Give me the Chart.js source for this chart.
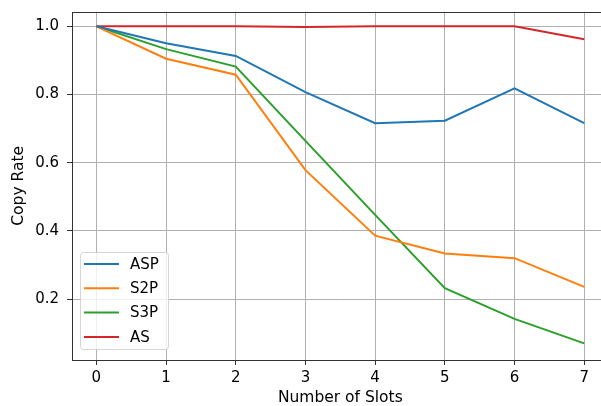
<!DOCTYPE html>
<html>
<head>
<meta charset="utf-8">
<script src="https://cdn.jsdelivr.net/npm/chart.js@4"></script>
<style>
  html, body { margin: 0; padding: 0; background: #fff; overflow: hidden; }
  #wrap { width: 615px; height: 406px; }
</style>
</head>
<body>
<div id="wrap"><canvas id="chart" width="615" height="406"></canvas></div>
<script>
const slots = [0, 1, 2, 3, 4, 5, 6, 7];
const asp = [1.0, 0.950, 0.913, 0.807, 0.716, 0.723, 0.818, 0.716];
const s2p = [1.0, 0.905, 0.858, 0.578, 0.386, 0.334, 0.320, 0.236];
const s3p = [1.0, 0.933, 0.882, 0.664, 0.447, 0.232, 0.142, 0.070];
const as = [1.0, 1.0, 1.0, 0.998, 1.0, 1.0, 1.0, 0.962];

const seriesNames = ["ASP", "S2P", "S3P", "AS"];
const seriesValues = [asp, s2p, s3p, as];
const colors = ["#1f77b4", "#ff7f0e", "#2ca02c", "#d62728"];

const xTicks = [0, 1, 2, 3, 4, 5, 6, 7];
const yTicks = [0.2, 0.4, 0.6, 0.8, 1.0];

const FONT = "'DejaVu Sans', sans-serif";

const datasets = seriesNames.map((name, i) => ({
  label: name,
  data: slots.map((x, j) => ({ x: x, y: seriesValues[i][j] })),
  borderColor: colors[i],
  backgroundColor: colors[i],
  borderWidth: 2,
  pointRadius: 0,
  tension: 0,
  fill: false,
}));

// put the ticks exactly where matplotlib had them
function setTicks(values) {
  return function (scale) {
    scale.ticks = values.map((v) => ({ value: v }));
  };
}

// frame on top of the lines, like matplotlib spines
const framePlugin = {
  id: "frame",
  afterDatasetsDraw(chart) {
    const a = chart.chartArea;
    const ctx = chart.ctx;
    ctx.save();
    ctx.strokeStyle = "#333333";
    ctx.lineWidth = 1;
    ctx.strokeRect(Math.round(a.left) + 0.5, Math.round(a.top) + 0.5,
      Math.round(a.right - a.left), Math.round(a.bottom - a.top));
    ctx.restore();
  },
};

// matplotlib style legend in the lower left corner
const legendPlugin = {
  id: "boxLegend",
  afterDraw(chart) {
    const ctx = chart.ctx;
    const a = chart.chartArea;
    const x0 = a.left + 8, y0 = a.bottom - 11 - 97;
    const w = 88, h = 97;
    ctx.save();
    ctx.globalAlpha = 0.8;
    ctx.fillStyle = "#ffffff";
    ctx.strokeStyle = "#cccccc";
    ctx.lineWidth = 1;
    ctx.beginPath();
    ctx.roundRect(x0 + 0.5, y0 + 0.5, w, h, 3);
    ctx.fill();
    ctx.stroke();
    ctx.globalAlpha = 1;
    ctx.font = "15px " + FONT;
    ctx.textBaseline = "middle";
    ctx.fillStyle = "#000000";
    chart.data.datasets.forEach((ds, i) => {
      const y = y0 + 12 + i * 24.3;
      ctx.strokeStyle = ds.borderColor;
      ctx.lineWidth = 2;
      ctx.beginPath();
      ctx.moveTo(x0 + 4, y);
      ctx.lineTo(x0 + 39, y);
      ctx.stroke();
      ctx.fillText(ds.label, x0 + 50, y + 1);
    });
    ctx.restore();
  },
};

new Chart(document.getElementById("chart"), {
  type: "line",
  data: { datasets: datasets },
  options: {
    responsive: false,
    animation: false,
    layout: { padding: { left: 0, top: 11.7, right: 6.4, bottom: 0 } },
    plugins: { legend: { display: false }, tooltip: { enabled: false } },
    scales: {
      x: {
        type: "linear",
        min: -0.35,
        max: 7.35,
        afterBuildTicks: setTicks(xTicks),
        afterFit: (scale) => {
          scale.height = 46;
          scale.paddingLeft = 0;
          scale.paddingRight = 0;
        },
        ticks: {
          stepSize: 1,
          color: "#000",
          padding: 4,
          maxRotation: 0,
          autoSkip: false,
          font: { family: FONT, size: 15 },
          callback: (v) => String(v),
        },
        grid: { color: "#b0b0b0", lineWidth: 1, tickLength: 5, tickColor: "#333" },
        border: { display: false },
        title: {
          display: true,
          text: "Number of Slots",
          color: "#000",
          padding: { top: 0, bottom: 0 },
          font: { family: FONT, size: 15.5, lineHeight: 1.1 },
        },
      },
      y: {
        type: "linear",
        min: 0.0214,
        max: 1.0428,
        afterBuildTicks: setTicks(yTicks),
        afterFit: (scale) => {
          scale.width = 72;
          scale.paddingTop = 0;
          scale.paddingBottom = 0;
        },
        ticks: {
          stepSize: 0.2,
          color: "#000",
          padding: 8,
          autoSkip: false,
          font: { family: FONT, size: 15 },
          callback: (v) => v.toFixed(1),
        },
        grid: { color: "#b0b0b0", lineWidth: 1, tickLength: 5, tickColor: "#333" },
        border: { display: false },
        title: {
          display: true,
          text: "Copy Rate",
          color: "#000",
          padding: { top: 10, bottom: 0 },
          font: { family: FONT, size: 15.5, lineHeight: 1.1 },
        },
      },
    },
  },
  plugins: [framePlugin, legendPlugin],
});
</script>
</body>
</html>
